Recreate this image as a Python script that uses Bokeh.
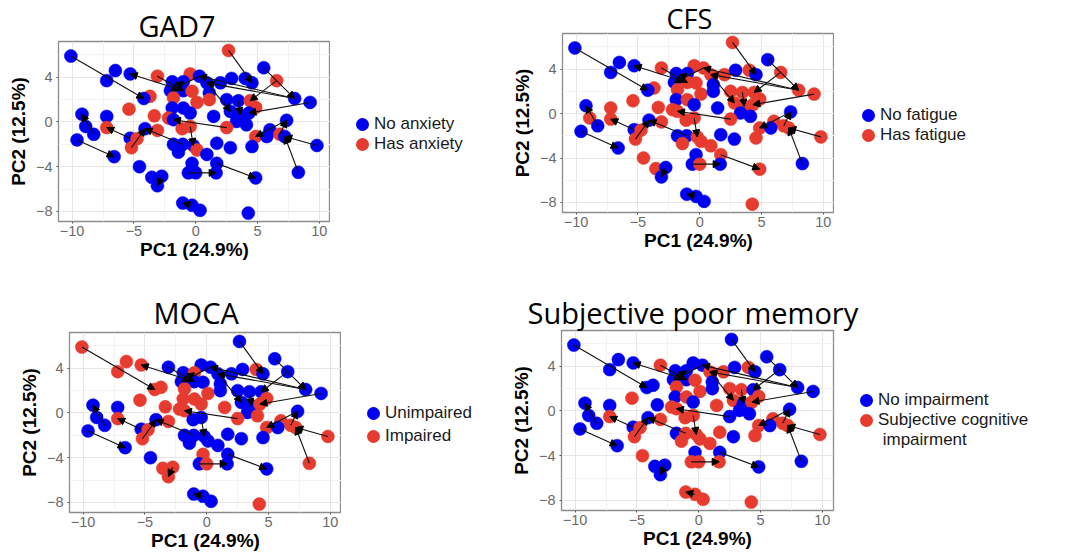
import numpy as np
from bokeh.plotting import figure
from bokeh.models import (ColumnDataSource, Arrow, NormalHead, FixedTicker,
                          Legend, LegendItem)
from bokeh.layouts import column, row
from bokeh.embed import file_html
from bokeh.resources import INLINE

# ---- data ----
pc1 = [-10.1, 2.65, 5.5, 6.55, -6.5, -7.2, -5.3, -3.1, -0.45, 0.3,
       -1.9, -1.0, 2.0, 2.9, 4.0, 4.55, 0.9, -2.05, -1.0, -0.3,
       1.1, -3.7, -4.2, -1.8, 0.1, 1.1, 2.5, 3.45, 4.4, 4.85,
       8.0, 9.25, -5.4, -3.35, -1.9, -1.0, -0.45, -2.2, -1.8, 1.45,
       2.8, 3.6, 4.3, 3.3, -9.2, -7.2, -8.9, -8.25, -7.2, -9.6,
       -4.1, -3.1, -1.1, -0.45, 2.5, 4.1, 6.0, 7.35, 6.8, 4.85,
       5.75, 7.2, 9.8, 8.3, -5.3, -4.75, -5.2, -6.6, -1.8, -1.05,
       -0.2, 0.1, 1.7, 2.8, 4.55, 0.9, -1.4, -0.3, 1.7, -4.55,
       -3.55, -2.75, -3.1, -0.6, 0.0, 1.65, 4.85, -1.05, -0.3, 0.35,
       4.25]
pc2 = [5.9, 6.4, 4.85, 3.7, 4.6, 3.7, 4.3, 4.1, 4.3, 4.1,
       3.6, 3.6, 3.5, 3.9, 3.9, 3.5, 3.5, 2.8, 2.8, 2.75,
       2.6, 2.3, 2.1, 2.15, 1.75, 2.0, 2.0, 1.9, 1.9, 1.3,
       2.1, 1.75, 1.15, 0.55, 1.25, 1.25, 0.8, 0.35, 0.2, 0.5,
       0.95, 0.65, 0.8, 0.05, 0.7, 0.5, -0.4, -1.1, -0.5, -1.6,
       -0.6, -0.75, -0.6, -0.4, -0.5, -0.25, -0.7, 0.15, -1.1, -1.3,
       -1.3, -1.3, -2.1, -4.5, -1.45, -1.5, -2.3, -3.1, -2.0, -2.0,
       -2.1, -2.5, -1.9, -2.3, -2.2, -2.9, -2.7, -3.7, -3.7, -4.0,
       -4.95, -4.85, -5.7, -4.55, -4.55, -4.55, -5.0, -7.25, -7.45, -7.9,
       -8.15]
# 1 = second category (red), 0 = first category (blue)
gad7 = [0, 1, 0, 1, 0, 0, 0, 1, 1, 0,
        0, 0, 0, 0, 0, 0, 0, 0, 0, 1,
        0, 1, 0, 1, 1, 1, 0, 0, 1, 1,
        0, 0, 1, 1, 0, 0, 0, 1, 0, 0,
        0, 0, 0, 0, 0, 0, 0, 0, 1, 0,
        0, 1, 1, 1, 1, 0, 0, 0, 1, 1,
        0, 0, 0, 0, 0, 1, 1, 0, 0, 0,
        0, 1, 0, 0, 0, 0, 0, 0, 0, 0,
        0, 0, 0, 0, 0, 0, 0, 0, 0, 0,
        0]
cfs = [0, 1, 0, 1, 0, 0, 0, 1, 1, 1,
       0, 0, 1, 0, 1, 0, 1, 0, 1, 1,
       0, 1, 0, 1, 1, 0, 1, 1, 1, 1,
       1, 1, 1, 1, 0, 1, 0, 1, 1, 0,
       1, 1, 1, 0, 0, 1, 1, 0, 1, 0,
       0, 1, 1, 1, 1, 0, 1, 0, 1, 1,
       0, 1, 1, 0, 0, 1, 1, 0, 0, 0,
       1, 1, 0, 0, 1, 1, 1, 0, 1, 1,
       1, 0, 0, 0, 1, 0, 1, 0, 0, 0,
       1]
moca = [1, 0, 0, 0, 1, 1, 1, 0, 0, 0,
        0, 1, 0, 0, 1, 0, 0, 0, 0, 0,
        0, 1, 1, 1, 1, 0, 0, 0, 0, 1,
        0, 0, 1, 1, 1, 1, 1, 1, 1, 1,
        0, 0, 1, 0, 0, 0, 0, 0, 1, 0,
        0, 1, 0, 0, 1, 1, 1, 0, 1, 1,
        0, 1, 1, 1, 0, 1, 1, 0, 0, 0,
        0, 0, 0, 0, 0, 0, 0, 1, 0, 0,
        1, 1, 1, 0, 1, 0, 0, 0, 0, 0,
        1]
spm = [0, 0, 0, 0, 0, 0, 0, 1, 0, 0,
       0, 0, 1, 0, 1, 0, 1, 0, 0, 1,
       0, 0, 0, 1, 1, 0, 1, 1, 0, 1,
       0, 0, 1, 0, 0, 1, 0, 1, 1, 1,
       1, 0, 1, 0, 0, 0, 0, 0, 1, 0,
       0, 1, 1, 1, 0, 0, 1, 0, 1, 1,
       0, 1, 1, 0, 0, 1, 1, 0, 0, 1,
       1, 1, 1, 0, 1, 1, 1, 0, 0, 1,
       0, 0, 0, 1, 1, 1, 0, 1, 1, 1,
       1]
# paired samples: arrow from point index -> point index
arrow_from = [0, 1, 3, 2, 30, 30, 31, 54, 18, 7, 9, 53, 47, 64, 49, 66,
              69, 78, 83, 81, 88, 63, 62, 57, 58, 16, 27, 17]
arrow_to = [22, 15, 28, 30, 9, 16, 42, 38, 6, 18, 17, 70, 44, 48, 67, 50,
            50, 86, 85, 82, 87, 61, 61, 59, 57, 40, 41, 11]

x_ticks = [-10, -5, 0, 5, 10]
y_ticks = [-8, -4, 0, 4]

BLUE = "#0000F0"
RED = "#E63B2E"

# mode "fig": legend in its own narrow figure; "side": legend in right panel
panels = [
    dict(title="GAD7", group=gad7, labels=["No anxiety", "Has anxiety"],
         extra=None,
         mode="fig", w=330, lw=170, h=280, bl=58, bt=41, bb=59,
         tsize="29px", toff=80, tstand=-6, leg=(22, 126), lsp=0),
    dict(title="CFS", group=cfs, labels=["No fatigue", "Has fatigue"],
         extra=None,
         mode="fig", w=334, lw=241, h=280, bl=62, bt=32, bb=68,
         tsize="27px", toff=104, tstand=-6, leg=(24, 135), lsp=0),
    dict(title="MOCA", group=moca, labels=["Unimpaired", "Impaired"],
         extra=None,
         mode="fig", w=341, lw=159, h=273, bl=69, bt=52, bb=41,
         tsize="29px", toff=84, tstand=1, leg=(22, 107), lsp=3),
    dict(title="Subjective poor memory", group=spm,
         labels=["No impairment", "Subjective cognitive"],
         extra=" impairment",
         mode="side", w=575, lw=0, h=273, bl=61, bt=50, bb=43,
         tsize="29px", toff=-34, tstand=-3, leg=(23, 60), lsp=0),
]

arrow_data = dict(
    x0=[pc1[i] for i in arrow_from], y0=[pc2[i] for i in arrow_from],
    x1=[pc1[j] for j in arrow_to], y1=[pc2[j] for j in arrow_to],
)


def style_legend(legend, lsp):
    legend.border_line_color = None
    legend.background_fill_alpha = 0
    legend.inactive_fill_alpha = 0
    legend.label_text_font = "Liberation Sans"
    legend.label_text_font_size = "17px"
    legend.label_text_color = "#1a1a1a"
    legend.glyph_width = 20
    legend.glyph_height = 20
    legend.label_height = 20
    legend.spacing = lsp
    legend.label_standoff = 2
    legend.margin = 0
    legend.padding = 0


def key_renderers(fig, grp):
    bx = [x for x, g in zip(pc1, grp) if g == 0]
    by = [y for y, g in zip(pc2, grp) if g == 0]
    rx = [x for x, g in zip(pc1, grp) if g == 1]
    ry = [y for y, g in zip(pc2, grp) if g == 1]
    kb = fig.scatter(bx, by, size=8, fill_color=BLUE, line_color=BLUE,
                     line_width=5, visible=False)
    kr = fig.scatter(rx, ry, size=8, fill_color=RED, line_color=RED,
                     line_width=5, visible=False)
    # transparent key, used for the continuation line of a long label
    kn = fig.scatter(rx, ry, size=8, fill_alpha=0, line_alpha=0,
                     visible=False)
    return kb, kr, kn


def build_legend(fig, cfg, grp):
    kb, kr, kn = key_renderers(fig, grp)
    items = [LegendItem(label=cfg["labels"][0], renderers=[kb]),
             LegendItem(label=cfg["labels"][1], renderers=[kr])]
    if cfg["extra"]:
        items.append(LegendItem(label=cfg["extra"], renderers=[kn]))
    legend = Legend(items=items, location=cfg["leg"])
    style_legend(legend, cfg["lsp"])
    return legend


def make_panel(cfg):
    kw = {}
    if cfg["mode"] == "side":
        kw = dict(frame_width=272, frame_height=180)
    p = figure(width=cfg["w"], height=cfg["h"],
               x_range=(-11.1, 10.9), y_range=(-8.9, 7.2),
               output_backend="svg", toolbar_location=None,
               min_border_left=cfg["bl"], min_border_top=cfg["bt"],
               min_border_right=0, min_border_bottom=cfg["bb"], **kw)
    p.title.text = cfg["title"]
    p.title.text_font = "Open Sans"
    p.title.text_font_style = "normal"
    p.title.text_font_size = cfg["tsize"]
    p.title.text_color = "black"
    p.title.align = "left"
    p.title.offset = cfg["toff"]
    p.title.standoff = cfg["tstand"]

    p.outline_line_color = "#8c8c8c"
    p.outline_line_width = 1.3
    p.background_fill_color = "white"
    p.border_fill_color = "white"

    p.xaxis.ticker = FixedTicker(ticks=x_ticks,
                                 minor_ticks=[-7.5, -2.5, 2.5, 7.5])
    p.yaxis.ticker = FixedTicker(ticks=y_ticks, minor_ticks=[-6, -2, 2, 6])
    for ax in (p.xaxis, p.yaxis):
        ax.axis_line_color = None
        ax.major_tick_out = 2
        ax.major_tick_in = 0
        ax.major_tick_line_color = "#555555"
        ax.minor_tick_line_color = None
        ax.major_label_text_font = "Liberation Sans"
        ax.major_label_text_font_size = "14.5px"
        ax.major_label_text_color = "#6b6b6b"
        ax.axis_label_text_font = "Liberation Sans"
        ax.axis_label_text_font_style = "bold"
        ax.axis_label_text_font_size = "19px"
        ax.axis_label_text_color = "black"
    p.xaxis.major_label_standoff = 0
    p.xaxis.axis_label_standoff = 0
    p.yaxis.major_label_standoff = 2
    p.yaxis.axis_label_standoff = 4
    p.xaxis.axis_label = "PC1 (24.9%)"
    p.yaxis.axis_label = "PC2 (12.5%)"

    p.grid.grid_line_color = "#e6e6e6"
    p.grid.grid_line_width = 1
    p.grid.minor_grid_line_color = "#f3f3f3"

    grp = cfg["group"]
    colors = [RED if g else BLUE for g in grp]
    src = ColumnDataSource(dict(x=pc1, y=pc2, c=colors))
    p.scatter("x", "y", source=src, size=13, fill_color="c",
              line_color="c", line_width=0.5)

    arr = Arrow(end=NormalHead(size=7, fill_color="black",
                               line_color="black", line_width=1),
                x_start="x0", y_start="y0", x_end="x1", y_end="y1",
                source=ColumnDataSource(arrow_data),
                line_color="#111111", line_width=1.1)
    p.add_layout(arr)

    if cfg["mode"] == "side":
        p.add_layout(build_legend(p, cfg, grp), "right")
        return [column(p)]

    # ---- legend, in its own narrow figure to the right ----
    lf = figure(width=cfg["lw"], height=cfg["h"], output_backend="svg",
                toolbar_location=None, min_border=0,
                x_axis_type=None, y_axis_type=None,
                x_range=(-11.1, 10.9), y_range=(-8.9, 7.2))
    lf.outline_line_color = None
    lf.grid.visible = False
    lf.background_fill_color = "white"
    lf.border_fill_color = "white"
    lf.add_layout(build_legend(lf, cfg, grp))
    return [column(p), column(lf)]


parts = [make_panel(c) for c in panels]
layout = column(row(*(parts[0] + parts[1])), row(*(parts[2] + parts[3])))

open("out.html", "w").write(file_html(layout, INLINE))
